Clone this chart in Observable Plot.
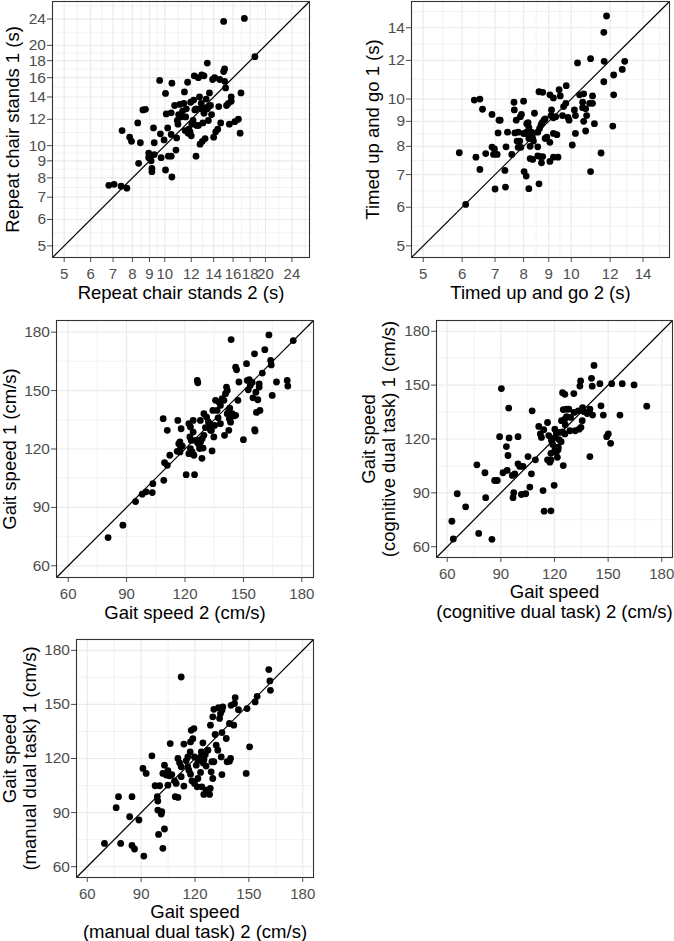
<!DOCTYPE html>
<html><head><meta charset="utf-8">
<script src="https://cdn.jsdelivr.net/npm/d3@7"></script>
<script src="https://cdn.jsdelivr.net/npm/@observablehq/plot@0.6"></script>
<style>
body{margin:0;background:#fff;}
#chart{position:relative;width:674px;height:941px;background:#fff;font-family:"Liberation Sans",Arial,sans-serif;}
.panel{position:absolute;}
</style></head><body><div id="chart"></div>
<script>
// ---------- Data ----------
const chairStands2 = [6.8,7.05,7.4,7.7,7.45,7.85,7.95,8.3,8.35,8.45,8.6,8.75,8.95,8.95,9.05,9.1,9.15,9.15,9.3,9.25,9.3,9.65,9.7,9.75,9.95,10.05,10.05,10.1,10.2,10.25,10.45,10.45,10.5,10.45,10.5,10.85,10.8,10.7,11.0,10.95,11.1,11.2,11.3,11.4,11.45,11.5,11.6,11.7,11.8,11.9,11.95,12.0,12.05,12.2,12.25,12.3,12.4,12.45,12.4,12.6,12.6,12.7,12.75,12.8,12.9,12.95,13.0,13.0,13.1,13.1,13.2,13.3,13.4,13.4,13.5,13.6,13.7,13.8,13.9,14.0,14.1,14.2,14.4,14.5,14.6,14.7,15.0,15.0,15.1,15.1,15.2,15.3,15.5,15.6,15.8,15.8,16.2,16.6,16.8,16.9,17.3,18.6,11.55,12.15,12.85,13.55,11.75,10.9];
const chairStands1 = [7.6,7.65,7.55,7.45,11.1,10.6,10.3,11.7,8.85,10.2,12.8,12.85,9.5,9.2,9.3,9.0,8.55,8.35,9.4,11.3,10.2,15.7,10.85,9.2,10.4,8.45,14.35,12.45,11.3,9.3,9.3,12.55,15.4,10.8,8.05,10.55,9.7,13.2,12.4,11.6,13.3,12.2,12.7,13.4,14.5,11.1,12.9,15.5,11.2,11.0,13.5,10.7,11.6,13.7,16.2,12.8,12.9,11.5,9.3,16.0,11.5,14.0,10.1,12.9,16.3,10.3,13.0,11.7,16.2,12.5,10.5,13.8,17.7,12.9,11.9,14.4,13.2,12.4,15.8,10.6,16.0,11.0,11.2,13.1,15.8,11.7,23.6,16.7,17.0,15.6,14.9,13.2,13.4,11.6,14.0,13.6,11.8,12.0,10.9,14.4,24.1,18.5,12.2,11.9,13.4,13.1,10.9,11.9];

const tug2 = [5.92,6.1,6.35,6.52,6.4,6.52,6.6,6.7,6.9,6.9,6.98,6.95,7.07,7.0,7.13,7.17,7.1,7.33,7.37,7.35,7.42,7.57,7.65,7.66,7.68,7.8,7.73,7.76,7.86,7.8,7.9,7.92,7.88,8.0,8.0,8.05,8.12,8.2,8.17,8.12,8.02,8.1,8.2,8.2,8.35,8.25,8.38,8.3,8.35,8.25,8.35,8.42,8.55,8.62,8.68,8.73,8.8,8.85,8.55,8.55,8.65,8.75,8.7,8.6,8.6,8.75,8.85,8.92,9.05,9.2,9.05,9.05,9.1,9.12,9.2,9.3,9.2,9.35,9.2,9.4,9.45,9.5,9.6,9.85,9.9,9.65,9.75,9.77,10.05,10.15,10.2,10.2,10.3,10.4,10.6,10.55,10.55,10.7,10.6,10.75,10.7,10.95,10.95,10.9,11.05,11.05,11.15,11.5,11.65,11.65,11.67,11.8,12.2,12.2,12.15,12.7,12.85];
const tug1 = [7.76,6.08,9.95,10.0,7.6,7.17,9.53,7.73,9.3,7.97,7.9,7.7,7.7,6.54,9.05,9.05,8.52,7.14,7.98,6.6,8.55,7.7,9.85,9.5,8.52,8.55,9.05,8.2,8.2,7.96,7.96,9.3,9.2,9.9,8.5,8.5,8.55,8.75,8.95,8.9,7.1,6.95,6.55,8.3,8.3,8.0,8.2,8.55,8.5,7.55,7.52,9.35,8.55,8.7,8.85,8.95,9.05,9.1,7.98,7.65,7.62,7.62,7.4,6.7,10.35,10.32,8.3,8.35,10.2,10.05,8.15,7.45,9.25,9.5,9.15,9.2,8.5,8.45,7.6,7.6,10.45,10.15,9.25,9.17,9.05,9.65,9.8,10.65,8.05,9.5,9.25,8.5,11.86,10.2,10.25,9.85,9.6,9.55,9.0,9.25,8.6,12.1,7.1,9.8,9.8,10.15,8.9,7.75,10.85,13.7,11.95,14.8,11.2,10.2,8.8,11.5,11.95];

const gait2 = [80.5,88.1,94.6,98,100,103.2,103.5,109.1,108.8,109.5,110.9,110.9,112.2,116.3,116,117.4,118.6,118,120.6,122,122.8,122.5,123.2,122,124.2,124.2,124.9,125.4,126.6,126.3,126.6,127.6,127.9,128.7,128.8,129.3,129.7,131.1,132.8,133.6,133.9,134.3,134.8,135.7,136.5,137.4,138.2,139.1,140,140.3,140.8,141.3,141.7,141.7,142.5,142.8,143.4,142.5,143.7,144.2,146,146,146.5,147.2,147.7,150,151.6,152,153,153.5,154.5,152.5,154.9,155.7,156.4,157.4,156,156.7,158.1,158.1,158.5,159.7,161,163.1,164,164.3,164.8,167,172.5,172.8,175.6,116.8,117.7,117.4,122.8,123.7,124.6,127.5,128,126.3,129.7,133.1,135.2,138.2,137,143,145,130.5,132,155.8];
const gait1 = [74.5,80.9,93,96.8,98,97.6,102.2,103.9,135.6,113,111.6,129.6,116.8,134.7,118.8,123.6,121.5,130.4,106.8,133,131.3,126.2,124.4,117.6,134.7,128.7,106.8,124.4,123,155.2,154,121,134.7,115.2,125.3,120.5,138.1,136.4,132.6,129.6,119,139.8,126.2,145,139.8,144.1,133,145.8,145,127,148.4,151.8,150.1,138.1,139.8,135.6,133.8,129.6,176.2,138.1,137.3,162,160.7,145,154.4,124.8,163.8,155.2,155.6,152.6,154.2,150.4,146.3,168.9,149.2,145.3,129.2,138.8,153.5,151.8,139.8,159,171,178.6,165.5,163.2,147.5,154.4,155.2,152.3,175.7,122.7,121,118.5,120.2,118.5,116.8,120.2,123.6,124.4,127,129.6,132.1,142.4,136,141,137,131,134,130];

const gaitCog2 = [62.6,63.4,65.6,70.3,76.6,77.6,81.1,81.5,85,86.5,88,89.3,90.3,91.2,93.5,93.1,94,94.4,94.6,96.4,97.8,96.8,97.2,99.6,99.6,100.6,101.5,102.4,103.9,105.2,106.2,107.1,107.5,109.3,111.2,112.1,112.7,113.6,114,114.2,116.1,116.1,116.8,117.4,118,118,118.3,119.3,119.8,120.2,120.2,121,121.6,122.1,122.6,123,123.7,123.9,124.5,125.8,124.5,125.8,126.7,124.9,124.9,125.8,126.7,128,128.6,130.8,131,131.6,133.3,133.8,134.8,134.2,134.6,135.7,135.5,136.4,138.3,139.4,139.8,139.8,140.7,141.1,141.3,142.1,145.4,146,147.3,149.2,150.1,151.4,152,156.6,157.9,164.5,171.6,121,119,122,118,126,129];
const gaitCog1 = [74.2,64.3,89.5,82.2,105.6,67.4,101.2,87.3,64.1,96.9,96.9,121.3,148.1,101.2,102.5,115.8,110.8,137.2,120.6,99.7,100.6,87.3,90.1,121.3,106.2,104.7,89.1,104.7,89.5,110.2,93.2,100.6,135.7,108.4,127,122.8,120.9,91.3,125.2,79.8,129.2,108.4,121.9,107.1,108.4,80,119.1,120.4,94.2,125.5,113.9,112.6,109.8,115.4,119.6,123.7,118.5,130.2,145.8,144.9,124,122.8,136.6,136.4,105.2,131.1,132.4,136.6,124.6,145.3,134.8,124.6,135.7,125.5,126.5,149.5,152.3,137.5,130.2,135.3,134.2,135.3,136.6,110.2,153.8,149.4,133.3,161,150.8,138.5,133.3,121.3,122.8,117.6,150.8,133.3,150.8,150.1,138.3,123,117,114,112,128,132];

const gaitMan2 = [69.6,76.1,77.4,78.6,83.6,84.9,84.9,86.3,88.8,91,92.8,91.5,96,97.8,99,100.3,99.3,99.3,101.5,101.2,99.7,102.1,103,102.1,103,104,104.9,105.8,107.1,104.9,106.2,108.6,109.5,109,110.5,110.5,111.4,112.3,112.3,112.3,113.8,113.8,115.1,116,116,116.6,117.5,117.3,117.5,118.8,117.9,119.4,118.3,119.7,121.2,121.6,119.7,120.7,121.6,122.5,123.1,123.5,124.2,125,124.6,126.2,123.8,124.9,124.4,126.2,128.1,128.5,125.7,127.2,128.6,129,129.9,129.4,130.5,129.9,130.5,131.2,131.8,132.7,133.1,134.2,133.7,134.6,135,135,135.5,135,137.4,137.9,139.2,139.8,139.2,141.6,140.1,142,142.4,144.2,148.5,149,150.4,153.5,154.6,161.1,161.7,162];
const gaitMan1 = [72.9,92.7,98.8,72.9,87.7,98.8,71.8,69.8,85.9,114.5,111.7,65.9,121.5,104.9,98.8,104.9,96.4,91.4,90.5,89.2,77.9,70.2,80.9,111.7,116.3,110.8,113.2,110.4,111.1,105.2,128.3,107.6,106.2,98.8,98.4,120,117.6,115.4,109.9,165.2,128,104.7,118.7,115.4,120.9,113.5,111.3,123.7,129.2,131,135.6,136.6,107.6,106.2,104.3,108.9,120.9,116.3,118.7,120,112.3,123.7,122.1,119.4,117.5,115.8,104.3,100.1,128.7,102.5,100.1,103.4,122.1,124.6,138.5,112.6,108.9,118.2,118.2,143.1,147.3,133.3,127.4,124.6,148.2,144.9,142.2,120.9,134.4,146.8,148.6,111.1,131.1,118.2,118.5,120,139.4,138.5,149.5,150.5,153.8,147.1,111.7,147.7,126.5,151.4,154.5,169.3,163,157.8];

const chairTicks = [5,6,7,8,9,10,12,14,16,18,20,24];
const tugTicks = [5,6,7,8,9,10,12,14];
const gaitTicks = [60,90,120,150,180];
const chairLimits = [5,25];
const tugLimits = [5,15];
const gaitLimits = [60,180];

// ---------- helpers ----------
function expand(lim, log) {
  if (log) {
    const a = Math.log(lim[0]), b = Math.log(lim[1]), e = (b - a) * 0.05;
    return [Math.exp(a - e), Math.exp(b + e)];
  }
  const e = (lim[1] - lim[0]) * 0.05;
  return [lim[0] - e, lim[1] + e];
}
function minorBreaks(ticks, log, dom) {
  const f = log ? Math.log : (v) => v, g = log ? Math.exp : (v) => v;
  const t = ticks.map(f), out = [];
  for (let i = 0; i < t.length - 1; i++) out.push((t[i] + t[i + 1]) / 2);
  out.push(t[t.length - 1] + (t[t.length - 1] - t[t.length - 2]) / 2);
  out.unshift(t[0] - (t[1] - t[0]) / 2);
  return out.map(g).filter((v) => v >= dom[0] && v <= dom[1]);
}

const FONT = '"Liberation Sans", Arial, sans-serif';
const chart = document.getElementById("chart");

function panel(cfg) {
  const dom = expand(cfg.limits, cfg.log);
  const minor = minorBreaks(cfg.ticks, cfg.log, dom);
  const data = cfg.xs.map((x, i) => ({x, y: cfg.ys[i]}));
  const type = cfg.log ? "log" : "linear";
  const p = Plot.plot({
    width: cfg.width, height: cfg.height,
    marginLeft: cfg.ml, marginRight: cfg.mr, marginTop: cfg.mt, marginBottom: cfg.mb,
    style: {fontFamily: FONT, background: "white", overflow: "visible"},
    x: {type, domain: dom, label: null},
    y: {type, domain: dom, label: null},
    marks: [
      Plot.gridX(minor, {stroke: "#EBEBEB", strokeOpacity: 1, strokeWidth: 0.6}),
      Plot.gridY(minor, {stroke: "#EBEBEB", strokeOpacity: 1, strokeWidth: 0.6}),
      Plot.gridX(cfg.ticks, {stroke: "#EBEBEB", strokeOpacity: 1, strokeWidth: 1.2}),
      Plot.gridY(cfg.ticks, {stroke: "#EBEBEB", strokeOpacity: 1, strokeWidth: 1.2}),
      Plot.link([dom], {x1: (d) => d[0], y1: (d) => d[0], x2: (d) => d[1], y2: (d) => d[1], stroke: "black", strokeWidth: 1.2}),
      Plot.dot(data, {x: "x", y: "y", r: 3.4, fill: "black"}),
      Plot.frame({stroke: "#333333", strokeWidth: 1.1}),
      Plot.axisX(cfg.ticks, {tickSize: 5, tickPadding: 5.5, fontSize: 15, color: "#4D4D4D", label: null, text: (d) => String(d)}),
      Plot.axisY(cfg.ticks, {tickSize: 5, tickPadding: 1.5, fontSize: 15.5, color: "#4D4D4D", label: null, text: (d) => String(d)}),
      Plot.text([cfg.xLabel], {frameAnchor: "bottom", text: (d) => d, dy: cfg.xdy, textAnchor: "middle", lineAnchor: "bottom", fontSize: 18.5, fill: "black", lineHeight: 1.05}),
      Plot.text([cfg.yLabel], {frameAnchor: "left", text: (d) => d, rotate: -90, dx: cfg.ydx, textAnchor: "middle", lineAnchor: "bottom", fontSize: 18.5, fill: "black", lineHeight: 1.05})
    ]
  });
  const div = document.createElement("div");
  div.className = "panel";
  div.style.left = cfg.left + "px";
  div.style.top = cfg.top + "px";
  div.appendChild(p);
  chart.appendChild(div);
}

panel({left: 0, top: 0, width: 337, height: 310, ml: 52, mr: 28, mt: 1, mb: 53,
  xs: chairStands2, ys: chairStands1, limits: chairLimits, ticks: chairTicks, log: true,
  xLabel: "Repeat chair stands 2 (s)", yLabel: "Repeat chair stands 1 (s)", xdy: 41.5, ydx: -33.5});
panel({left: 337, top: 0, width: 337, height: 310, ml: 74, mr: 5, mt: 1, mb: 53,
  xs: tug2, ys: tug1, limits: tugLimits, ticks: tugTicks, log: true,
  xLabel: "Timed up and go 2 (s)", yLabel: "Timed up and go 1 (s)", xdy: 41.5, ydx: -32.5});
panel({left: 0, top: 310, width: 337, height: 320, ml: 56, mr: 24, mt: 10, mb: 53,
  xs: gait2, ys: gait1, limits: gaitLimits, ticks: gaitTicks, log: false,
  xLabel: "Gait speed 2 (cm/s)", yLabel: "Gait speed 1 (cm/s)", xdy: 41.5, ydx: -41});
panel({left: 337, top: 310, width: 337, height: 320, ml: 99, mr: 2, mt: 10, mb: 73,
  xs: gaitCog2, ys: gaitCog1, limits: gaitLimits, ticks: gaitTicks, log: false,
  xLabel: "Gait speed\n(cognitive dual task) 2 (cm/s)", yLabel: "Gait speed\n(cognitive dual task) 1 (cm/s)", xdy: 60, ydx: -42});
panel({left: 0, top: 630, width: 337, height: 311, ml: 76, mr: 24, mt: 9, mb: 64,
  xs: gaitMan2, ys: gaitMan1, limits: gaitLimits, ticks: gaitTicks, log: false,
  xLabel: "Gait speed\n(manual dual task) 2 (cm/s)", yLabel: "Gait speed\n(manual dual task) 1 (cm/s)", xdy: 60, ydx: -41});
</script></body></html>
